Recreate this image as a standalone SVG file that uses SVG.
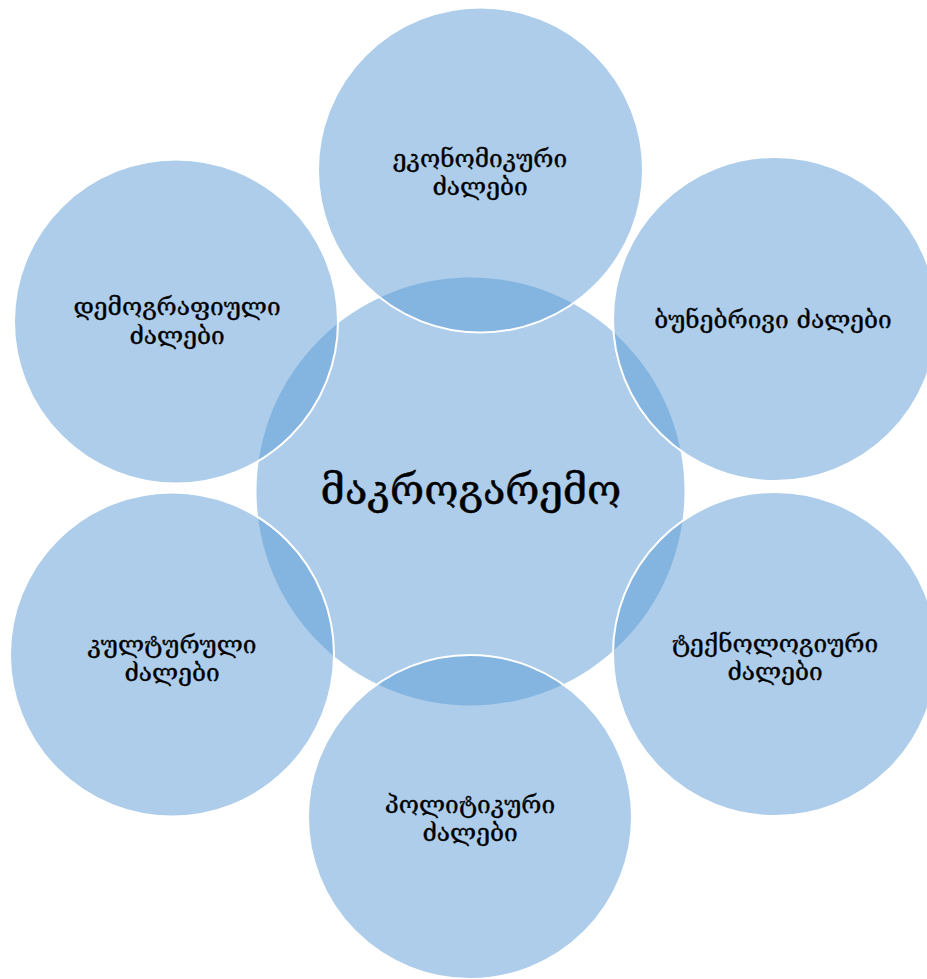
<svg xmlns="http://www.w3.org/2000/svg" width="927" height="979" viewBox="0 0 927 979">
<style>
.c{fill:#5B9BD5;fill-opacity:0.5}
.o{fill:#5B9BD5;fill-opacity:0.5;stroke:#FFFFFF;stroke-width:2}
text{font-family:"DejaVu Serif","DejaVu Sans",sans-serif;fill:#000;stroke:#000;stroke-width:0.35;text-anchor:middle}
.s{font-size:24.5px}
.b{font-size:41.5px;stroke-width:0.5}
</style>
<rect width="927" height="979" fill="#FFFFFF"/>
<g id="center">
<circle class="c" cx="470.5" cy="491.5" r="214"/>
<text class="b" x="471" y="504">მაკროგარემო</text>
</g>
<g id="economic">
<circle class="o" cx="480.5" cy="170" r="162.5"/>
<text class="s" x="480" y="167">ეკონომიკური</text>
<text class="s" x="480" y="195">ძალები</text>
</g>
<g id="natural">
<circle class="o" cx="775" cy="319" r="162"/>
<text class="s" x="773" y="328">ბუნებრივი ძალები</text>
</g>
<g id="technological">
<circle class="o" cx="775" cy="654" r="162"/>
<text class="s" x="775" y="652">ტექნოლოგიური</text>
<text class="s" x="775" y="680">ძალები</text>
</g>
<g id="political">
<circle class="o" cx="470" cy="817" r="162"/>
<text class="s" x="470" y="813">პოლიტიკური</text>
<text class="s" x="470" y="841">ძალები</text>
</g>
<g id="cultural">
<circle class="o" cx="172" cy="654.5" r="162"/>
<text class="s" x="172" y="653">კულტურული</text>
<text class="s" x="172" y="681">ძალები</text>
</g>
<g id="demographic">
<circle class="o" cx="176" cy="321.5" r="162"/>
<text class="s" x="177" y="315">დემოგრაფიული</text>
<text class="s" x="177" y="344">ძალები</text>
</g>
<g id="connectors"></g>
</svg>
